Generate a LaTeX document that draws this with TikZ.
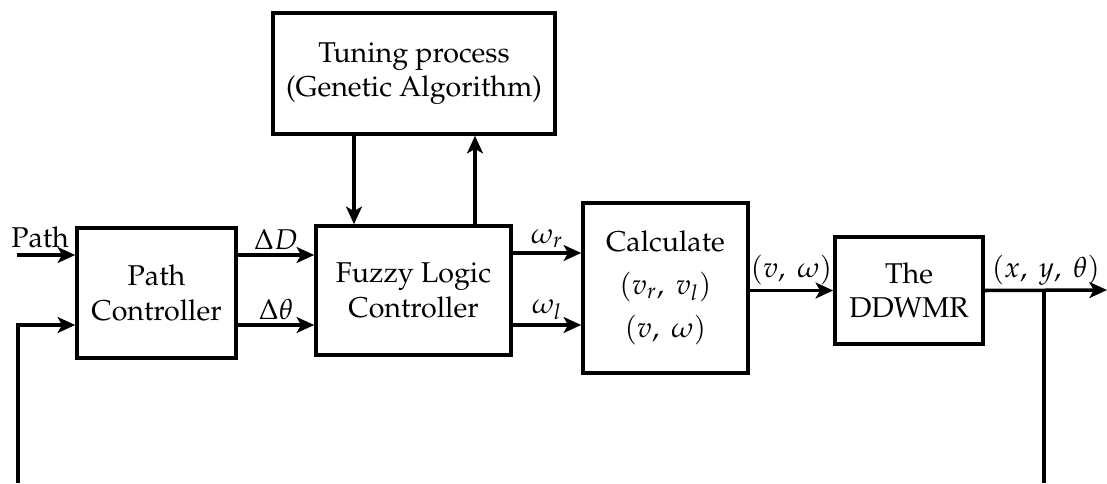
\documentclass[tikz,border=0pt]{standalone}
\usepackage{amsmath}
\usepackage[T1]{fontenc}
\usepackage{mathpazo}
\usetikzlibrary{arrows.meta}

\begin{document}
\begin{tikzpicture}[line width=2pt, >={Stealth[length=10pt,width=9pt,inset=2.5pt]},
    font=\fontsize{16.3}{19.5}\selectfont,
    blk/.style={draw, align=center, inner sep=0pt},
    lbl/.style={inner sep=2pt}]
		  \useasboundingbox (0,0) rectangle (22.14,9.66);
		  % blocks
		  \node[blk, minimum width=3.18cm, minimum height=2.6cm] (pc) at (3.13,3.8) {Path\\Controller};
		  \node[blk, minimum width=3.9cm, minimum height=2.58cm] (flc) at (8.27,3.85) {Fuzzy Logic\\Controller};
		  \node[blk, minimum width=5.64cm, minimum height=2.42cm] (tune) at (8.28,8.19) {Tuning process\\(Genetic Algorithm)};
		  \node[blk, minimum width=3.3cm, minimum height=3.4cm] (calc) at (13.31,3.9) {Calculate\\[5pt]$(v_r,\ v_l)$\\[5pt]$(v,\ \omega)$};
		  \node[blk, minimum width=2.96cm, minimum height=2.14cm] (robot) at (18.18,3.85) {The\\DDWMR};
		  % free ends
		  \coordinate (pin) at (0.34,4.56);
		  \coordinate (fbl) at (0.36,0);
		  \coordinate (out) at (22.14,3.86);
		  \coordinate (tap) at (20.88,3.86);
		  \coordinate (fbr) at (20.88,0);
		  % inputs
		  \draw[->] (pin) -- (pin -| pc.west);
		  \node[lbl, anchor=base west] (lpath) at (0.12,4.72) {Path};
		  \draw[->] (fbl) |- ([yshift=-0.64cm]pc.west);
		  % path controller -> fuzzy
		  \draw[->] ([yshift=0.76cm]pc.east) -- ([yshift=0.76cm]pc.east -| flc.west) node[lbl, midway, above] (ldd) {$\Delta D$};
		  \draw[->] ([yshift=-0.64cm]pc.east) -- ([yshift=-0.64cm]pc.east -| flc.west) node[lbl, midway, above] (ldt) {$\Delta\theta$};
		  % tuning loop
		  \draw[->] ([xshift=-1.2cm]tune.south) -- ([xshift=-1.2cm]tune.south |- flc.north);
		  \draw[->] ([xshift=1.23cm]flc.north) -- ([xshift=1.23cm]flc.north |- tune.south);
		  % fuzzy -> calculate
		  \draw[->] ([yshift=0.75cm]flc.east) -- ([yshift=0.75cm]flc.east -| calc.west) node[lbl, midway, above] (lwr) {$\omega_r$};
		  \draw[->] ([yshift=-0.69cm]flc.east) -- ([yshift=-0.69cm]flc.east -| calc.west) node[lbl, midway, above] (lwl) {$\omega_l$};
		  % calculate -> robot -> out
		  \draw[->] (calc.east |- robot.west) -- (robot.west) node[lbl, midway, above] (lvw) {$(v,\ \omega)$};
		  \draw[->] (robot.east) -- (out) node[lbl, midway, above] (lxy) {$(x,\ y,\ \theta)$};
		  \draw (tap) -- (fbr);
		\end{tikzpicture}
\end{document}
